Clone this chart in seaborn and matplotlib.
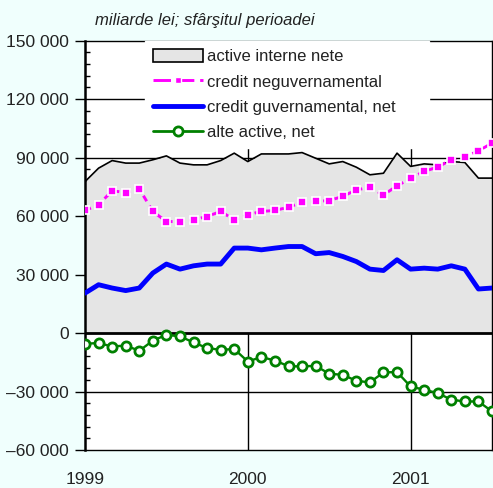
import numpy as np
import pandas as pd
import seaborn as sns
import matplotlib
matplotlib.use('Agg')
import matplotlib.pyplot as plt
from matplotlib.patches import Patch
from matplotlib.lines import Line2D
from matplotlib.ticker import FixedLocator, FixedFormatter, MultipleLocator

# monthly values, end of period, thousands of billions lei
months = np.arange(31)
active_interne = [77.7, 84.6, 88.5, 87.2, 87.2, 88.9, 90.9, 87.2, 86.3, 86.3, 88.5, 92.3,
                  88.0, 91.9, 91.9, 91.9, 92.6, 89.7, 86.8, 88.0, 85.1, 81.2, 82.0, 92.3,
                  85.5, 86.8, 86.3, 88.0, 87.5, 79.5, 79.5]
credit_neguv = [62.9, 65.8, 73.0, 72.1, 74.0, 62.4, 57.2, 57.2, 58.1, 59.8, 62.4, 58.1,
                60.7, 62.4, 62.9, 64.6, 67.0, 67.5, 68.0, 70.1, 73.5, 74.7, 70.9, 75.5,
                79.5, 82.9, 85.2, 88.9, 90.3, 93.5, 97.4]
credit_guv = [20.5, 24.8, 23.1, 21.8, 23.1, 30.8, 35.4, 32.8, 34.5, 35.4, 35.4, 43.6,
              43.6, 42.7, 43.6, 44.4, 44.4, 40.7, 41.3, 39.3, 36.7, 32.8, 32.1, 37.6,
              32.8, 33.3, 32.8, 34.5, 32.8, 22.6, 23.1]
alte_active = [-5.5, -5.1, -6.9, -6.4, -9.1, -3.9, -0.9, -1.7, -4.8, -7.7, -8.6, -8.2,
               -14.6, -12.3, -14.1, -17.0, -17.1, -16.8, -20.9, -21.4, -24.5, -25.3, -20.2, -20.0,
               -27.4, -29.1, -30.8, -34.2, -35.1, -35.1, -40.2]

labels = ['active interne nete', 'credit neguvernamental',
          'credit guvernamental, net', 'alte active, net']
y_ticks = [-60000, -30000, 0, 30000, 60000, 90000, 120000, 150000]
y_ticklabels = ['–60 000', '–30 000', '0', '30 000', '60 000', '90 000', '120 000', '150 000']
x_ticks = [1999, 2000, 2001]
x_ticklabels = ['1999', '2000', '2001']

df = pd.DataFrame({
    't': 1999 + months / 12,
    'active': np.array(active_interne) * 1000,
    'neguv': np.array(credit_neguv) * 1000,
    'guv': np.array(credit_guv) * 1000,
    'alte': np.array(alte_active) * 1000,
})

sns.set_style('white')
plt.rcParams['font.family'] = ['Liberation Sans', 'DejaVu Sans']

bg = '#f0fffd'
fig = plt.figure(figsize=(4.93, 4.88), dpi=100, facecolor=bg)
ax = fig.add_axes([85 / 493, 38 / 488, 407 / 493, 409.3 / 488])
ax.set_facecolor('white')

# grid behind the area
for v in [-30000, 30000, 60000, 90000, 120000]:
    ax.axhline(v, color='black', lw=1, zorder=0)
for v in [2000, 2001]:
    ax.axvline(v, color='black', lw=1, zorder=0)

ax.fill_between(df['t'], 0, df['active'], color='#e5e5e5', lw=0, zorder=1)
sns.lineplot(data=df, x='t', y='active', color='black', lw=1.2, ax=ax, zorder=2)
ax.axhline(0, color='black', lw=2.0, zorder=3)

sns.lineplot(data=df, x='t', y='neguv', color='#ff00ff', lw=2.1,
             linestyle=(0, (2.2, 1.8)), marker='s', markersize=5.8,
             markerfacecolor='#ff00ff', markeredgecolor='white', markeredgewidth=1.2,
             ax=ax, zorder=4)
sns.lineplot(data=df, x='t', y='guv', color='#0000ff', lw=3.5, ax=ax, zorder=4)
sns.lineplot(data=df, x='t', y='alte', color='#008000', lw=1.7, marker='o',
             markersize=6.6, markerfacecolor='white', markeredgecolor='#008000',
             markeredgewidth=2.0, ax=ax, zorder=4)

ax.set_xlim(1999, 2001.5)
ax.set_ylim(-60000, 150000)
ax.set_xlabel('')
ax.set_ylabel('')

ax.yaxis.set_major_locator(FixedLocator(y_ticks))
ax.yaxis.set_major_formatter(FixedFormatter(y_ticklabels))
ax.yaxis.set_minor_locator(MultipleLocator(6000))
ax.set_xticks(x_ticks)
ax.set_xticklabels(x_ticklabels)
ax.tick_params(axis='y', which='major', direction='out', length=7.5, width=1,
               labelsize=12.5, pad=4, colors='black', labelcolor='#222222', left=True)
ax.tick_params(axis='y', which='minor', direction='in', length=3.5, width=1, left=True,
               color='black')
ax.tick_params(axis='x', length=0, labelsize=12.5, pad=16, labelcolor='#222222')

for side in ['top', 'right', 'bottom']:
    ax.spines[side].set_color('black')
    ax.spines[side].set_linewidth(1)
ax.spines['left'].set_color('black')
ax.spines['left'].set_linewidth(1.8)

handles = [
    Patch(facecolor='#e5e5e5', edgecolor='black', lw=1.2),
    Line2D([], [], color='#ff00ff', lw=2.1, linestyle=(0, (6, 2)), marker='s',
           markersize=5, markerfacecolor='#ff00ff', markeredgecolor='white', markeredgewidth=1.0),
    Line2D([], [], color='#0000ff', lw=3.5),
    Line2D([], [], color='#008000', lw=2.0, marker='o', markersize=6.6,
           markerfacecolor='white', markeredgecolor='#008000', markeredgewidth=2.0),
]
leg = ax.legend(handles, labels, loc='upper left',
                bbox_to_anchor=(145 / 493, 1 - 148 / 488, 284 / 493, 107 / 488),
                bbox_transform=fig.transFigure, mode='expand', borderaxespad=0,
                fontsize=12, handlelength=3.0, handleheight=0.9, handletextpad=0.25,
                labelspacing=0.58, borderpad=0.45, numpoints=1,
                frameon=True, fancybox=False, framealpha=1, facecolor='white',
                edgecolor='white')
leg.set_zorder(6)
for t in leg.get_texts():
    t.set_color('#222222')

fig.text(95 / 493, 1 - 20 / 488, 'miliarde lei; sfârşitul perioadei', style='italic',
         fontsize=12, color='#222222', va='center', ha='left')

fig.savefig('out.png', dpi=100, facecolor=bg)
